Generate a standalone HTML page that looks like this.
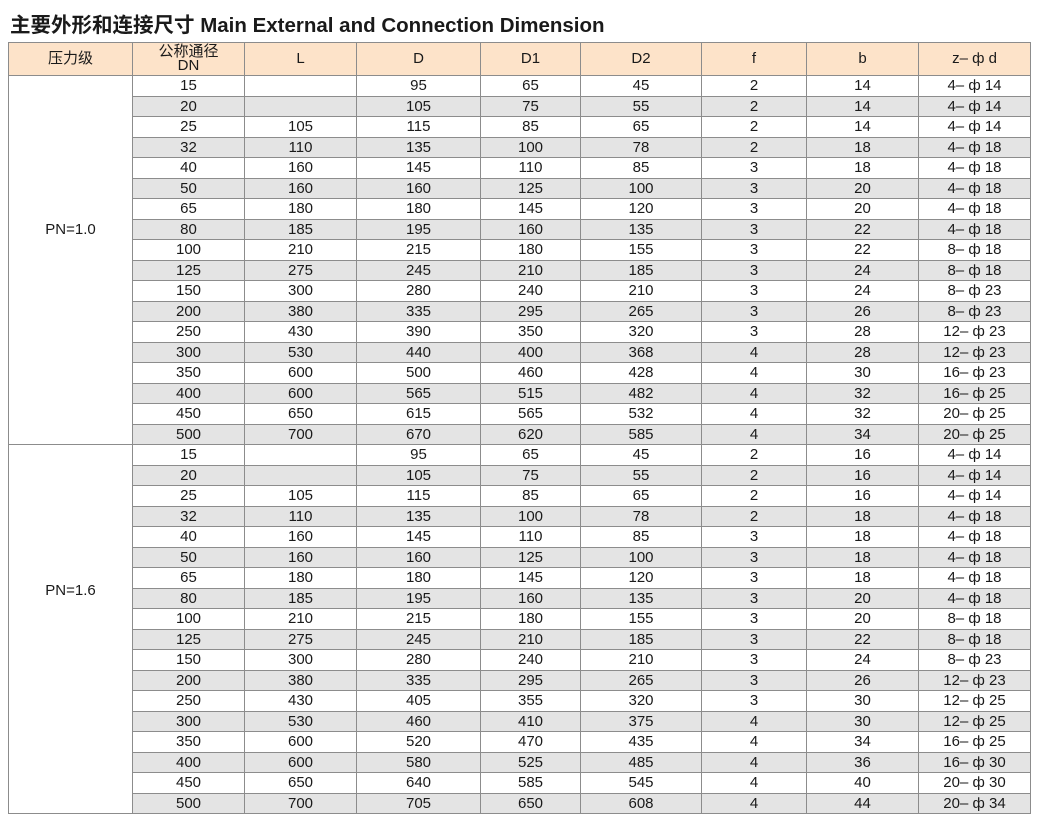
<!DOCTYPE html>
<html><head><meta charset="utf-8"><style>
body{margin:0;background:#fff;width:1037px;height:821px;overflow:hidden;font-family:"Liberation Sans","Noto Sans CJK SC",sans-serif;}
.t{position:absolute;left:10px;top:8px;font-size:20.5px;font-weight:bold;color:#1a1a1a;white-space:nowrap}
table{position:absolute;left:8px;top:42px;border-collapse:collapse;table-layout:fixed;font-size:15px;color:#1a1a1a;}
td,th{border:1px solid #8c8c8c;text-align:center;padding:0;height:19.5px;line-height:17px;font-weight:normal;overflow:hidden;white-space:nowrap}
th{background:#fde3c9;height:32px;line-height:14px}
tr.g td{background:#e4e4e4}
td.pn{background:#fff!important;vertical-align:top;padding-top:145px}
td.p2{padding-top:137px}
</style></head><body>
<div class="t">主要外形和连接尺寸 Main External and Connection Dimension</div>
<table>
<colgroup><col style="width:124px"><col style="width:112px"><col style="width:112px"><col style="width:124px"><col style="width:100px"><col style="width:121px"><col style="width:105px"><col style="width:112px"><col style="width:112px"></colgroup>
<tr><th>压力级</th><th>公称通径<br>DN</th><th>L</th><th>D</th><th>D1</th><th>D2</th><th>f</th><th>b</th><th>z– ф d</th></tr>
<tbody id="b"></tbody>
</table>
<script>
var a=[["15","","95","65","45","2","14","4– ф 14"],["20","","105","75","55","2","14","4– ф 14"],["25","105","115","85","65","2","14","4– ф 14"],["32","110","135","100","78","2","18","4– ф 18"],["40","160","145","110","85","3","18","4– ф 18"],["50","160","160","125","100","3","20","4– ф 18"],["65","180","180","145","120","3","20","4– ф 18"],["80","185","195","160","135","3","22","4– ф 18"],["100","210","215","180","155","3","22","8– ф 18"],["125","275","245","210","185","3","24","8– ф 18"],["150","300","280","240","210","3","24","8– ф 23"],["200","380","335","295","265","3","26","8– ф 23"],["250","430","390","350","320","3","28","12– ф 23"],["300","530","440","400","368","4","28","12– ф 23"],["350","600","500","460","428","4","30","16– ф 23"],["400","600","565","515","482","4","32","16– ф 25"],["450","650","615","565","532","4","32","20– ф 25"],["500","700","670","620","585","4","34","20– ф 25"]];
var c=[["15","","95","65","45","2","16","4– ф 14"],["20","","105","75","55","2","16","4– ф 14"],["25","105","115","85","65","2","16","4– ф 14"],["32","110","135","100","78","2","18","4– ф 18"],["40","160","145","110","85","3","18","4– ф 18"],["50","160","160","125","100","3","18","4– ф 18"],["65","180","180","145","120","3","18","4– ф 18"],["80","185","195","160","135","3","20","4– ф 18"],["100","210","215","180","155","3","20","8– ф 18"],["125","275","245","210","185","3","22","8– ф 18"],["150","300","280","240","210","3","24","8– ф 23"],["200","380","335","295","265","3","26","12– ф 23"],["250","430","405","355","320","3","30","12– ф 25"],["300","530","460","410","375","4","30","12– ф 25"],["350","600","520","470","435","4","34","16– ф 25"],["400","600","580","525","485","4","36","16– ф 30"],["450","650","640","585","545","4","40","20– ф 30"],["500","700","705","650","608","4","44","20– ф 34"]];
var h="";
[[a,"PN=1.0",""],[c,"PN=1.6"," p2"]].forEach(function(s){s[0].forEach(function(r,i){
h+='<tr'+(i%2?' class="g"':'')+'>';
if(i==0)h+='<td class="pn'+s[2]+'" rowspan="18">'+s[1]+'</td>';
r.forEach(function(v,j){h+='<td>'+v+'</td>';});h+='</tr>';});});
document.getElementById("b").innerHTML=h;
</script>
</body></html>
